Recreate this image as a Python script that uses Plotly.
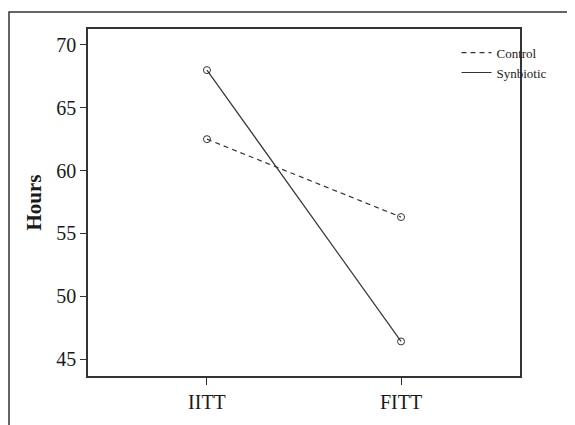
import plotly.graph_objects as go

categories = ["IITT", "FITT"]
control = [62.5, 56.3]
synbiotic = [68.0, 46.4]
y_ticks = [45, 50, 55, 60, 65, 70]

col = "#333333"
font = "Liberation Serif, Times New Roman, serif"
mk = dict(symbol="circle-open", size=7, color=col, line=dict(width=1))

fig = go.Figure()
fig.add_trace(go.Scatter(x=[0, 1], y=control, mode="lines+markers", name="Control",
                         line=dict(color=col, width=1.2, dash="5px,4px"), marker=mk, showlegend=False))
fig.add_trace(go.Scatter(x=[0, 1], y=synbiotic, mode="lines+markers", name="Synbiotic",
                         line=dict(color=col, width=1.2), marker=mk, showlegend=False))
# legend entries (lines only)
fig.add_trace(go.Scatter(x=[None], y=[None], mode="lines", name="Control",
                         line=dict(color=col, width=1.2, dash="5px,4px")))
fig.add_trace(go.Scatter(x=[None], y=[None], mode="lines", name="Synbiotic",
                         line=dict(color=col, width=1.2)))

# page has an 8px body margin
OFF = 8
W, H = 575 - OFF, 425 - OFF
L, R, T, B = 88 - OFF, 55, 29 - OFF, 47
pw, ph = W - L - R, H - T - B

fig.update_layout(
    width=W, height=H,
    margin=dict(l=L, r=R, t=T, b=B),
    paper_bgcolor="white", plot_bgcolor="white",
    font=dict(family=font, color="#222222"),
    showlegend=True,
    legend=dict(x=0.853, y=0.975, xanchor="left", yanchor="top",
                font=dict(size=13, family=font), bgcolor="rgba(0,0,0,0)",
                itemwidth=30, tracegroupgap=0),
    xaxis=dict(range=[-0.613, 1.613], tickvals=[0, 1], ticktext=categories,
               ticks="outside", ticklen=7, tickcolor=col, tickwidth=1,
               showgrid=False, zeroline=False, showline=True, linecolor=col, linewidth=1.5,
               mirror=True, tickfont=dict(size=20, family=font, color="#1a1a1a")),
    yaxis=dict(range=[43.65, 71.27], tickvals=y_ticks,
               ticks="outside", ticklen=6, tickcolor=col, tickwidth=1,
               showgrid=False, zeroline=False, showline=True, linecolor=col, linewidth=1.5,
               mirror=True, tickfont=dict(size=20, family=font, color="#1a1a1a"),
               title=dict(text="<b>Hours</b>", font=dict(size=21, family=font, color="#1a1a1a"),
                          standoff=9)),
)

# outer frame
x0 = (9 - OFF - L) / pw
ytop = (H - B - (12 - OFF)) / ph
fig.add_shape(type="path", xref="paper", yref="paper",
              path=f"M {x0},-0.3 L {x0},{ytop} L 1.3,{ytop}",
              line=dict(color=col, width=1.5))

fig.write_html("out.html")
